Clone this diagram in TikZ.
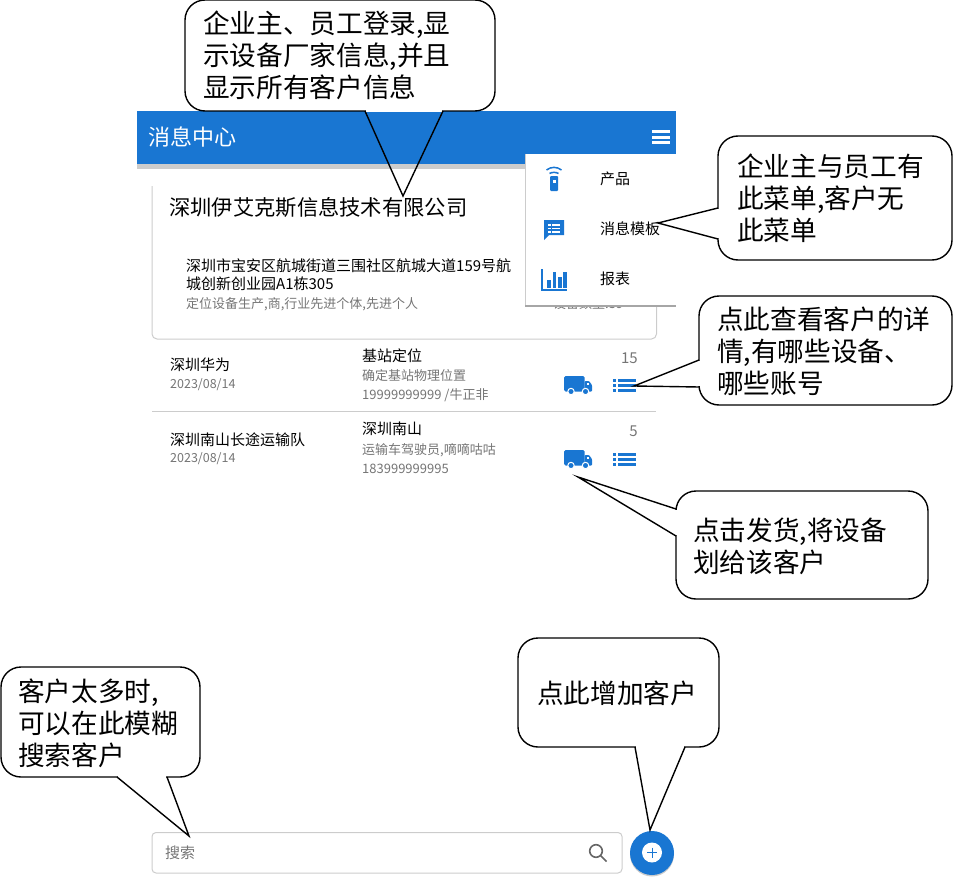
\documentclass[tikz,border=0pt]{standalone}
\usepackage{fontspec}
\setmainfont{Noto Sans CJK SC}
\definecolor{appblue}{HTML}{1976D2}
\definecolor{linegray}{HTML}{CCCCCC}
\definecolor{textgray}{HTML}{757575}

\begin{document}
\begin{tikzpicture}[
    x = 1pt, y = -1pt,
    callbox/.style = {shape = rectangle, rounded corners = 20pt, draw = black, fill = white, line width = 1.4pt, inner sep = 0pt},
    calltext/.style = {anchor = west, inner sep = 0pt, align = left, font = \fontsize{26.67}{32}\selectfont},
    tailgap/.style = {draw = white, line width = 2pt},
    tail/.style = {draw = black, line width = 1.4pt, line join = miter},
    head/.style = {anchor = west, inner sep = 0pt, font = \fontsize{21.3}{25}\selectfont},
    body/.style = {anchor = west, inner sep = 0pt, align = left, font = \fontsize{15}{18}\selectfont},
    note/.style = {anchor = west, inner sep = 0pt, text = textgray, font = \fontsize{13}{16}\selectfont},
    ]
    \useasboundingbox (0, 0) rectangle (953, 880);

    \fill[linegray] (137, 160) rectangle (530, 169);
    \fill[appblue] (137, 111) rectangle (676, 164);
    \node[anchor = west, inner sep = 0pt, text = white, font = \fontsize{22}{26}\selectfont] (title) at (148, 137) {消息中心};
    \foreach \bary in {130, 136, 141}
        \fill[white] (652, \bary) rectangle (670, \bary + 3);

    \draw[linegray, line width = 1pt, rounded corners = 5pt] (152, 186) -- (152, 339) -- (656.5, 339) -- (656.5, 300);
    \node[head] (company) at (169, 207) {深圳伊艾克斯信息技术有限公司};
    \node[body] (address) at (186, 275) {深圳市宝安区航城街道三围社区航城大道159号航\\城创新创业园A1栋305};
    \node[note] (scope) at (186, 304) {定位设备生产,商,行业先进个体,先进个人};
    \node[note] (amount) at (553, 304) {设备数量:39};

    \fill[white] (525, 154) rectangle (676, 306);
    \draw[linegray, line width = 1pt] (525, 154) -- (525, 305);
    \draw[black!35, line width = 1.5pt] (525, 306) -- (676, 306);

    \fill[appblue, rounded corners = 1pt] (550, 176) rectangle (558, 191);
    \fill[white] (553, 180) rectangle (555.5, 182.5);
    \draw[appblue, line width = 1.5pt] (546.5, 170) .. controls (551, 166.5) and (557, 166.5) .. (561.5, 170);
    \draw[appblue, line width = 1.5pt] (549.5, 173.5) .. controls (552, 172) and (556, 172) .. (558.5, 173.5);
    \node[body] (menuA) at (600, 179) {产品};

    \fill[appblue] (544, 220) -- (564, 220) -- (564, 235) -- (549, 235) -- (544, 240) -- cycle;
    \foreach \bary in {224, 227.5, 231} {
        \fill[white] (548, \bary) rectangle (550.5, \bary + 1.6);
        \fill[white] (552, \bary) rectangle (560, \bary + 1.6);
    }
    \node[body] (menuB) at (600, 229) {消息模板};

    \fill[appblue] (541, 269) rectangle (543, 291);
    \fill[appblue] (541, 289) rectangle (567, 291);
    \fill[appblue] (547, 280) rectangle (551, 288);
    \fill[appblue] (553, 272) rectangle (556, 288);
    \fill[appblue] (557.5, 277) rectangle (562, 288);
    \fill[appblue] (563, 272) rectangle (567, 288);
    \node[body] (menuC) at (600, 279) {报表};

    \node[body] (nameA) at (170, 365) {深圳华为};
    \node[note, font = \fontsize{12.5}{15}\selectfont] (dateA) at (170, 385) {2023/08/14};
    \node[body] (kindA) at (362, 356) {基站定位};
    \node[note] (descA) at (362, 376) {确定基站物理位置};
    \node[note] (phoneA) at (362, 395) {19999999999 /牛正非};
    \node[body, anchor = east, text = textgray] (countA) at (638, 358) {15};

    \draw[linegray, line width = 1pt] (152, 411) -- (656, 411);

    \node[body] (nameB) at (170, 440) {深圳南山长途运输队};
    \node[note, font = \fontsize{12.5}{15}\selectfont] (dateB) at (170, 459) {2023/08/14};
    \node[body] (kindB) at (362, 429) {深圳南山};
    \node[note] (descB) at (362, 450) {运输车驾驶员,嘀嘀咕咕};
    \node[note] (phoneB) at (362, 469) {183999999995};
    \node[body, anchor = east, text = textgray] (countB) at (638, 431) {5};

    \foreach \rowy in {376, 450} {
        \fill[appblue, rounded corners = 1.5pt] (564, \rowy) rectangle (584.5, \rowy + 15.5);
        \fill[appblue, rounded corners = 1pt] (584.5, \rowy + 5) -- (589, \rowy + 5) -- (592, \rowy + 9) -- (592, \rowy + 15.5) -- (584.5, \rowy + 15.5) -- cycle;
        \fill[white] (586.5, \rowy + 6.5) rectangle (589, \rowy + 9);
        \filldraw[fill = appblue, draw = white, line width = 1pt] (571, \rowy + 15.5) circle (3.2);
        \filldraw[fill = appblue, draw = white, line width = 1pt] (585.5, \rowy + 15.5) circle (3.2);
        \foreach \bary in {3, 8, 13} {
            \fill[appblue] (613, \rowy + \bary) rectangle (615.5, \rowy + \bary + 3);
            \fill[appblue] (618, \rowy + \bary) rectangle (636, \rowy + \bary + 3);
        }
    }

    \draw[linegray, line width = 1pt, rounded corners = 4pt] (152, 832.5) rectangle (622, 873);
    \node[body, text = textgray] (search) at (165, 853) {搜索};
    \draw[black!60, line width = 1.6pt] (596, 851) circle (6.3);
    \draw[black!60, line width = 1.6pt] (600.5, 855.5) -- (606.5, 861.5);

    \fill[linegray] (652, 854.5) circle (22);
    \fill[appblue] (652, 853) circle (22);
    \fill[white] (652, 852.5) circle (10);
    \draw[appblue, line width = 1pt] (647, 852.5) -- (657, 852.5);
    \draw[appblue, line width = 1pt] (652, 847.5) -- (652, 857.5);

    \node[callbox, minimum width = 310pt, minimum height = 111pt] (boxA) at (340, 55.5) {};
    \node[calltext] (textA) at (203, 55.5) {企业主、员工登录,显\\示设备厂家信息,并且\\显示所有客户信息};
    \coordinate (tipA) at (403, 196);
    \draw[tailgap] (366, 111) -- (442, 111);
    \draw[tail] (365, 111) -- (tipA) -- (443, 111);

    \node[callbox, minimum width = 234pt, minimum height = 124pt] (boxB) at (835, 198) {};
    \node[calltext] (textB) at (737, 198) {企业主与员工有\\此菜单,客户无\\此菜单};
    \coordinate (tipB) at (658, 223);
    \draw[tailgap] (718, 209) -- (718, 238);
    \draw[tail] (718, 208) -- (tipB) -- (718, 239);

    \node[callbox, minimum width = 253pt, minimum height = 109pt] (boxC) at (825.5, 350.5) {};
    \node[calltext] (textC) at (717, 351) {点此查看客户的详\\情,有哪些设备、\\哪些账号};
    \coordinate (tipC) at (634, 386);
    \draw[tailgap] (699, 361) -- (699, 386);
    \draw[tail] (699, 360) -- (tipC) -- (699, 387);

    \node[callbox, minimum width = 252pt, minimum height = 108pt] (boxD) at (802, 545) {};
    \node[calltext] (textD) at (693, 546) {点击发货,将设备\\划给该客户};
    \coordinate (tipD) at (578, 477);
    \draw[tailgap] (676, 510) -- (676, 535);
    \draw[tail] (676, 509) -- (tipD) -- (676, 536);

    \node[callbox, minimum width = 199pt, minimum height = 110pt] (boxE) at (100.5, 722) {};
    \node[calltext] (textE) at (18, 723) {客户太多时,\\可以在此模糊\\搜索客户};
    \coordinate (tipE) at (189, 836);
    \draw[tailgap] (118, 777) -- (166, 777);
    \draw[tail] (117, 777) -- (tipE) -- (167, 777);

    \node[callbox, minimum width = 201pt, minimum height = 109pt] (boxF) at (618.5, 692.5) {};
    \node[calltext] (textF) at (537, 693) {点此增加客户};
    \coordinate (tipF) at (650, 830);
    \draw[tailgap] (636, 747) -- (684, 747);
    \draw[tail] (635, 747) -- (tipF) -- (685, 747);
\end{tikzpicture}
\end{document}
